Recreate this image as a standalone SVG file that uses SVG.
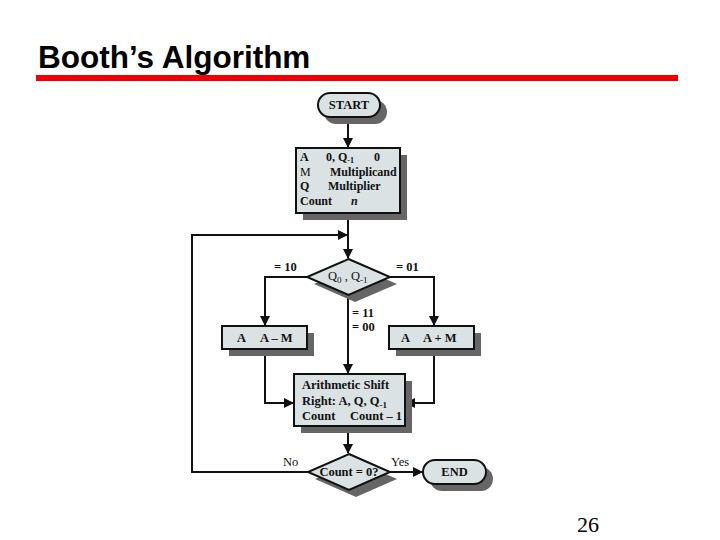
<svg xmlns="http://www.w3.org/2000/svg" width="720" height="540" viewBox="0 0 720 540">
<style>
.t{font-family:"Liberation Serif",serif;font-weight:bold;font-size:12.5px;fill:#111}
.s{font-size:12px}
.n{font-weight:normal}
.box{fill:#dbe2e4;stroke:#111;stroke-width:2}
.sh{fill:#666}
.ln{fill:none;stroke:#111;stroke-width:2}
</style>
<defs>
<marker id="ah" viewBox="0 0 10 10" refX="9" refY="5" markerWidth="5" markerHeight="5" orient="auto" markerUnits="strokeWidth">
<path d="M0,0 L10,5 L0,10 z" fill="#111"/>
</marker>
</defs>
<rect width="720" height="540" fill="#fff"/>
<text x="38" y="68" font-family="Liberation Sans,Arial,sans-serif" font-weight="bold" font-size="31.5" fill="#000">Booth’s Algorithm</text>
<rect x="36" y="75" width="642" height="6" fill="#f00000"/>
<g id="connectors">
<path class="ln" d="M348,117 V147" marker-end="url(#ah)"/>
<path class="ln" d="M348,213 V258" marker-end="url(#ah)"/>
<path class="ln" d="M308,472 H192 V235 H347" marker-end="url(#ah)"/>
<path class="ln" d="M307,277 H265 V325" marker-end="url(#ah)"/>
<path class="ln" d="M390,277 H434 V325" marker-end="url(#ah)"/>
<path class="ln" d="M348,295 V373" marker-end="url(#ah)"/>
<path class="ln" d="M265,349 V403 H293" marker-end="url(#ah)"/>
<path class="ln" d="M434,349 V403 H406" marker-end="url(#ah)"/>
<path class="ln" d="M348,426 V453" marker-end="url(#ah)"/>
<path class="ln" d="M390,472 H422" marker-end="url(#ah)"/>
<text class="t" x="274" y="271">= 10</text>
<text class="t" x="396" y="271">= 01</text>
<text class="t" x="352" y="317">= 11</text>
<text class="t" x="352" y="331">= 00</text>
<text class="t n" x="283" y="466">No</text>
<text class="t n" x="391" y="466">Yes</text>
</g>
<g id="start">
<rect class="sh" x="324" y="100" width="63" height="24" rx="12"/>
<rect class="box" x="318" y="93" width="62" height="24" rx="12"/>
<text class="t" x="349" y="109" text-anchor="middle">START</text>
</g>
<g id="init">
<rect class="sh" x="303" y="155" width="104" height="65"/>
<rect class="box" x="296" y="148" width="104" height="65"/>
<text class="t s" x="300" y="161">A</text>
<text class="t s" x="326" y="161">0, Q<tspan font-size="8" dy="2">-1</tspan></text>
<text class="t s" x="374" y="161">0</text>
<text class="t s n" x="300" y="176">M</text>
<text class="t s" x="330" y="176">Multiplicand</text>
<text class="t s" x="300" y="190">Q</text>
<text class="t s" x="328" y="190">Multiplier</text>
<text class="t s" x="300" y="205">Count</text>
<text class="t s" x="351" y="205" font-style="italic">n</text>
</g>
<g id="decision1">
<polygon class="sh" points="355,266 397,284 355,302 314,284"/>
<polygon class="box" points="348.5,259 390,277 348.5,295 307,277"/>
<text class="t n" x="328" y="280" font-size="13">Q<tspan font-size="9" dy="3">0</tspan><tspan dy="-3"> , Q</tspan><tspan font-size="9" dy="3">-1</tspan></text>
</g>
<g id="sub">
<rect class="sh" x="229" y="333" width="85" height="23"/>
<rect class="box" x="222" y="326" width="85" height="23"/>
<text class="t" x="237" y="342">A</text>
<text class="t" x="260" y="342">A – M</text>
</g>
<g id="add">
<rect class="sh" x="396" y="333" width="85" height="23"/>
<rect class="box" x="389" y="326" width="85" height="23"/>
<text class="t" x="401" y="342">A</text>
<text class="t" x="423" y="342">A + M</text>
</g>
<g id="shift">
<rect class="sh" x="301" y="381" width="111" height="52"/>
<rect class="box" x="294" y="374" width="111" height="52"/>
<text class="t" x="302" y="389">Arithmetic Shift</text>
<text class="t" x="302" y="405">Right: A, Q, Q<tspan font-size="9" dy="3">-1</tspan></text>
<text class="t" x="302" y="420">Count</text>
<text class="t" x="350" y="420">Count – 1</text>
</g>
<g id="decision2">
<polygon class="sh" points="356,461 397,479 356,497 315,479"/>
<polygon class="box" points="349,454 390,472 349,490 308,472"/>
<text class="t" x="349" y="476" text-anchor="middle">Count = 0?</text>
</g>
<g id="end">
<rect class="sh" x="430" y="467" width="63" height="24" rx="12"/>
<rect class="box" x="423" y="460" width="63" height="24" rx="12"/>
<text class="t" x="454.5" y="476" text-anchor="middle">END</text>
</g>
<text x="577" y="532" font-family="Liberation Serif,serif" font-size="22" fill="#000">26</text>
</svg>
